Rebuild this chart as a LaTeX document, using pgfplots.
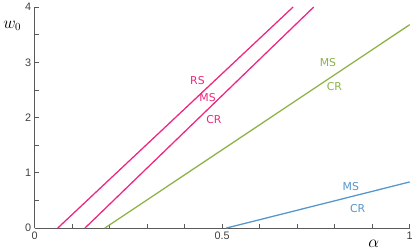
\documentclass[border=0pt]{standalone}
\usepackage{pgfplots}
\pgfplotsset{compat=1.18}
\usepackage{fontspec}
\setmainfont{Liberation Sans}
\newfontfamily\dejavu{DejaVu Sans}
\definecolor{cpink}{RGB}{236,40,128}
\definecolor{cgreen}{RGB}{140,178,72}
\definecolor{cblue}{RGB}{84,150,206}
\definecolor{cax}{RGB}{90,90,90}
\begin{document}
\begin{tikzpicture}
\begin{axis}[
  scale only axis, width=380pt, height=224pt,
  xmin=0, xmax=1, ymin=0, ymax=4,
  axis lines=left, axis line style={cax, line width=0.9pt, -},
  xtick={0,0.1,...,1.01}, xticklabels={0,,,,,0.5,,,,,1},
  ytick={0,0.5,...,4.01}, yticklabels={0,,1,,2,,3,,4},
  tick style={cax, line width=0.7pt}, major tick length=4pt,
  tick align=inside,
  /pgf/number format/assume math mode=true,
  ticklabel style={font=\fontsize{11}{13}\selectfont, text=cax!70!black},
  clip=false,
]
\addplot[cpink, line width=1.3pt] coordinates {(0.0614,0) (0.689,4)};
\addplot[cpink, line width=1.3pt] coordinates {(0.134,0) (0.744,4)};
\addplot[cgreen, line width=1.3pt] coordinates {(0.187,0) (1,3.68)};
\addplot[cblue, line width=1.3pt] coordinates {(0.511,0) (1,0.835)};
\begin{scope}[every node/.style={font=\dejavu\fontsize{11}{13}\selectfont}]
\node[cpink] at (axis cs:0.434,2.67) {RS};
\node[cpink] at (axis cs:0.461,2.36) {MS};
\node[cpink] at (axis cs:0.478,1.96) {CR};
\node[cgreen] at (axis cs:0.782,2.99) {MS};
\node[cgreen] at (axis cs:0.799,2.57) {CR};
\node[cblue] at (axis cs:0.843,0.76) {MS};
\node[cblue] at (axis cs:0.861,0.35) {CR};
\end{scope}
\node[font=\fontsize{16}{18}\selectfont] at (axis cs:-0.06,3.66) {$w_0$};
\node[font=\fontsize{17}{19}\selectfont] at (axis cs:0.904,-0.29) {$\alpha$};
\end{axis}
\path[use as bounding box] (-35pt,-23.3pt) rectangle (381pt,228.7pt);
\end{tikzpicture}
\end{document}
